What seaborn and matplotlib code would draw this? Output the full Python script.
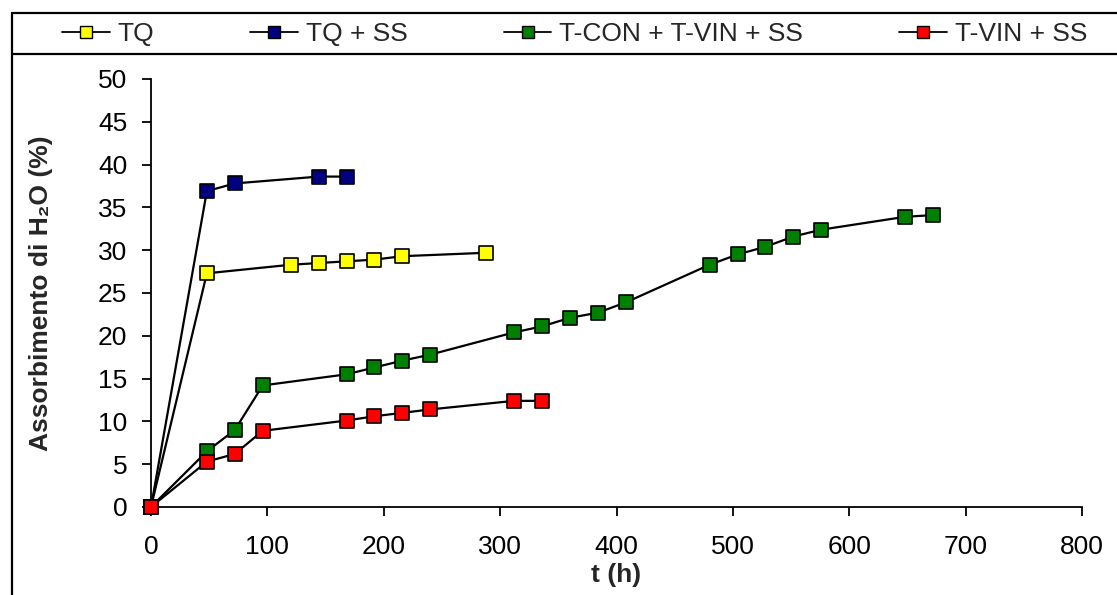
import numpy as np
import pandas as pd
import seaborn as sns
import matplotlib
matplotlib.use("Agg")
import matplotlib.pyplot as plt
from matplotlib.lines import Line2D

# Water uptake (%) versus immersion time (h)
series_names = ["TQ", "TQ + SS", "T-CON + T-VIN + SS", "T-VIN + SS"]
series_colors = ["#FFFF00", "#000080", "#008000", "#FF0000"]

t_tq = [0, 48, 120, 144, 168, 192, 216, 288]
v_tq = [0, 27.3, 28.3, 28.5, 28.7, 28.9, 29.3, 29.7]

t_tq_ss = [0, 48, 72, 144, 168]
v_tq_ss = [0, 36.9, 37.8, 38.6, 38.6]

t_tcon = [0, 48, 72, 96, 168, 192, 216, 240, 312, 336, 360, 384, 408,
          480, 504, 528, 552, 576, 648, 672]
v_tcon = [0, 6.5, 9.0, 14.2, 15.5, 16.3, 17.1, 17.8, 20.4, 21.1, 22.1, 22.7, 23.9,
          28.3, 29.5, 30.4, 31.6, 32.4, 33.9, 34.1]

t_tvin = [0, 48, 72, 96, 168, 192, 216, 240, 312, 336]
v_tvin = [0, 5.3, 6.2, 8.9, 10.1, 10.6, 11.0, 11.4, 12.4, 12.4]

x_ticks = list(range(0, 801, 100))
y_ticks = list(range(0, 51, 5))

frames = []
for name, t, v in zip(series_names, [t_tq, t_tq_ss, t_tcon, t_tvin],
                      [v_tq, v_tq_ss, v_tcon, v_tvin]):
    frames.append(pd.DataFrame({"t": t, "v": v, "serie": name}))
df = pd.concat(frames, ignore_index=True)

sns.set_style("ticks")
plt.rcParams["font.family"] = ["Liberation Sans", "DejaVu Sans"]
plt.rcParams["axes.linewidth"] = 1.3

FS = 19
W, H = 1117, 595
fig = plt.figure(figsize=(W / 100, H / 100), dpi=100)
ax = fig.add_axes([151 / W, 1 - 507 / H, (1082 - 151) / W, (507 - 79) / H])

# black connecting lines, one per series
for name in series_names:
    sub = df[df["serie"] == name]
    sns.lineplot(data=sub, x="t", y="v", color="black", linewidth=1.6,
                 estimator=None, sort=False, ax=ax, zorder=2, clip_on=False)

# coloured square markers
for name, col in zip(series_names, series_colors):
    sub = df[df["serie"] == name]
    sns.scatterplot(data=sub, x="t", y="v", color=col, marker="s", s=90,
                    edgecolor="black", linewidth=1.2, ax=ax, zorder=3,
                    clip_on=False, legend=False)

ax.set_xlim(0, 800)
ax.set_ylim(0, 50)
ax.set_xticks(x_ticks)
ax.set_yticks(y_ticks)
ax.tick_params(axis="both", labelsize=FS, colors="black", width=1.3, length=6.5)
ax.tick_params(axis="x", pad=14)
ax.tick_params(axis="y", pad=10.5)
sns.despine(ax=ax)
ax.spines["left"].set_color("black")
ax.spines["bottom"].set_color("black")

ax.set_xlabel("t (h)", fontsize=FS, fontweight="bold")
ax.set_ylabel("Assorbimento di H\u2082O (%)", fontsize=FS, fontweight="bold")
ax.xaxis.set_label_coords(0.5, -0.13)
ax.yaxis.set_label_coords(-0.105, 0.5)

# legend across the top
handles = [Line2D([0], [0], color="black", linewidth=1.3, marker="s",
                  markersize=9, markerfacecolor=c, markeredgecolor="black",
                  markeredgewidth=1.0) for c in series_colors]
fig.legend(handles, series_names, loc="center left",
           bbox_to_anchor=(62 / W, 1 - 34 / H), ncol=4, frameon=False,
           fontsize=FS, handlelength=1.8, handletextpad=0.3,
           columnspacing=3.65, borderaxespad=0, borderpad=0)

# chart frame and legend box
lw = 1.6
fig.add_artist(Line2D([12 / W, 12 / W], [0, 1 - 13 / H], transform=fig.transFigure,
                      color="black", linewidth=lw))
fig.add_artist(Line2D([12 / W, 1], [1 - 13 / H, 1 - 13 / H], transform=fig.transFigure,
                      color="black", linewidth=lw))
fig.add_artist(Line2D([12 / W, 1], [1 - 54 / H, 1 - 54 / H], transform=fig.transFigure,
                      color="black", linewidth=lw))

fig.savefig("out.png", dpi=100, facecolor="white")
